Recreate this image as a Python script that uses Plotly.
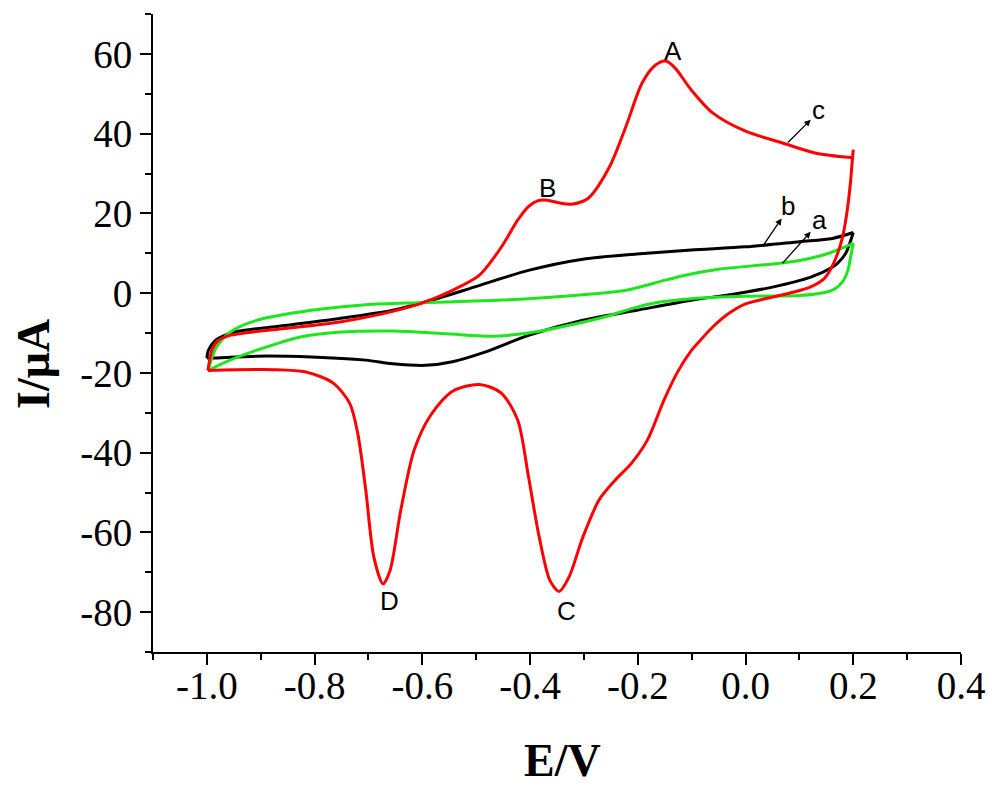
import plotly.graph_objects as go

# ---- data (E in V, I in uA) ----
red_cath_E = [0.200, 0.198, 0.195, 0.188, 0.180, 0.171, 0.160, 0.145, 0.120, 0.090, 0.040, 0.000, -0.030, -0.061, -0.085, -0.101, -0.125, -0.151, -0.182, -0.212, -0.242, -0.272, -0.302, -0.328, -0.346, -0.363, -0.383, -0.403, -0.423, -0.454, -0.494, -0.544, -0.584, -0.615, -0.640, -0.660, -0.673, -0.690, -0.705, -0.720, -0.735, -0.766, -0.816, -0.876, -0.998]
red_cath_I = [36.0, 33.0, 28.0, 20.0, 14.0, 10.0, 6.5, 3.5, 1.5, 0.3, -1.3, -2.7, -5.0, -8.5, -12.0, -14.5, -19.5, -26.7, -36.8, -42.7, -46.9, -51.9, -61.2, -71.3, -74.8, -72.1, -61.2, -46.0, -31.8, -25.0, -22.9, -24.6, -30.5, -39.3, -54.4, -69.6, -72.9, -66.2, -49.4, -35.1, -27.6, -22.5, -19.8, -19.2, -19.4]
red_anod_E = [-0.998, -0.990, -0.980, -0.957, -0.856, -0.756, -0.675, -0.605, -0.544, -0.494, -0.453, -0.423, -0.403, -0.385, -0.368, -0.345, -0.323, -0.292, -0.252, -0.222, -0.192, -0.167, -0.148, -0.131, -0.101, -0.061, 0.000, 0.070, 0.131, 0.196]
red_anod_I = [-19.4, -14.0, -12.0, -10.6, -8.9, -7.3, -5.2, -2.7, 0.7, 4.5, 11.6, 18.3, 21.7, 23.2, 23.3, 22.6, 22.3, 23.8, 31.8, 41.8, 52.7, 57.2, 58.2, 56.5, 51.0, 45.2, 40.6, 37.6, 35.1, 34.0]

black_cath_E = [0.200, 0.186, 0.171, 0.161, 0.121, 0.050, -0.020, -0.101, -0.202, -0.302, -0.403, -0.484, -0.544, -0.594, -0.655, -0.705, -0.806, -0.907, -0.990, -1.000]
black_cath_I = [15.2, 10.0, 7.5, 6.5, 4.0, 1.5, -0.2, -1.8, -4.3, -6.8, -10.6, -14.8, -17.2, -18.1, -17.7, -16.8, -16.0, -15.8, -16.3, -16.3]
black_anod_E = [-1.000, -0.997, -0.985, -0.965, -0.947, -0.856, -0.756, -0.655, -0.574, -0.504, -0.403, -0.302, -0.202, -0.101, 0.000, 0.100, 0.161, 0.200]
black_anod_I = [-16.3, -14.3, -12.0, -10.5, -9.7, -8.1, -6.4, -4.3, -1.4, 1.5, 5.7, 8.5, 9.8, 10.8, 11.6, 12.9, 13.7, 15.2]

green_cath_E = [0.200, 0.195, 0.190, 0.180, 0.165, 0.151, 0.100, 0.000, -0.101, -0.161, -0.202, -0.252, -0.302, -0.403, -0.473, -0.554, -0.655, -0.756, -0.826, -0.907, -0.957, -0.998]
green_cath_I = [12.5, 9.0, 5.7, 2.8, 1.0, 0.3, -0.6, -0.8, -1.4, -2.3, -3.5, -5.6, -7.3, -10.0, -10.8, -10.2, -9.5, -9.8, -11.0, -14.3, -16.8, -19.4]
green_anod_E = [-0.998, -0.990, -0.982, -0.957, -0.907, -0.806, -0.705, -0.605, -0.504, -0.403, -0.302, -0.222, -0.151, -0.101, -0.050, 0.050, 0.100, 0.150, 0.200]
green_anod_I = [-19.4, -16.0, -13.5, -9.8, -6.8, -4.3, -2.9, -2.4, -2.0, -1.4, -0.4, 0.7, 3.2, 4.8, 6.0, 7.3, 8.2, 9.8, 12.5]

peak_labels = ["A", "B", "C", "D"]
peak_E = [-0.134, -0.367, -0.333, -0.661]
peak_I = [60.6, 26.3, -79.6, -77.3]

curve_labels = ["c", "b", "a"]
curve_label_E = [0.136, 0.078, 0.138]
curve_label_I = [46.0, 21.8, 18.3]
arrow_tail_E = [0.076, 0.030, 0.066]
arrow_tail_I = [37.4, 11.4, 7.1]
arrow_head_E = [0.121, 0.067, 0.121]
arrow_head_I = [43.5, 18.7, 15.4]

xticks = [-1.0, -0.8, -0.6, -0.4, -0.2, 0.0, 0.2, 0.4]
yticks = [-80, -60, -40, -20, 0, 20, 40, 60]

RED = "#ff0000"
BLACK = "#000000"
GREEN = "#1ee61e"

fig = go.Figure()
for xs, ys, col in [
    (black_cath_E, black_cath_I, BLACK), (black_anod_E, black_anod_I, BLACK),
    (green_cath_E, green_cath_I, GREEN), (green_anod_E, green_anod_I, GREEN),
    (red_cath_E, red_cath_I, RED), (red_anod_E, red_anod_I, RED),
]:
    fig.add_trace(go.Scatter(x=xs, y=ys, mode="lines",
                             line=dict(color=col, width=3, shape="spline", smoothing=0.8),
                             showlegend=False, hoverinfo="skip"))

LFONT = dict(family="Liberation Sans, Arial", size=26, color="black")
annotations = []
for t, xx, yy in zip(peak_labels, peak_E, peak_I):
    annotations.append(dict(x=xx, y=yy, text=t, showarrow=False, font=LFONT))
for t, xx, yy in zip(curve_labels, curve_label_E, curve_label_I):
    annotations.append(dict(x=xx, y=yy, text=t, showarrow=False, font=LFONT))
for tx, ty, hx, hy in zip(arrow_tail_E, arrow_tail_I, arrow_head_E, arrow_head_I):
    annotations.append(dict(x=hx, y=hy, ax=tx, ay=ty, xref="x", yref="y",
                            axref="x", ayref="y", text="", showarrow=True,
                            arrowhead=2, arrowsize=1, arrowwidth=1.3, arrowcolor="black"))

# target plot area in page pixels (page body adds an 8 px offset)
OFF = 8
L, R, T, B = 153, 961, 14, 652
PW, PH = R - L, B - T
annotations.append(dict(xref="paper", yref="paper", x=(562 - L) / PW, y=(B - 760) / PH,
                        xanchor="center", yanchor="middle",
                        text="<b>E/V</b>", showarrow=False,
                        font=dict(family="Liberation Serif", size=46, color="black")))
annotations.append(dict(xref="paper", yref="paper", x=(33 - L) / PW, y=(B - 364) / PH,
                        xanchor="center", yanchor="middle",
                        text="<b>I/μA</b>", showarrow=False, textangle=-90,
                        font=dict(family="Liberation Serif", size=46, color="black")))

TFONT = dict(size=39, family="Liberation Serif", color="black")
fig.update_layout(
    width=1000, height=792,
    margin=dict(l=L - OFF, r=1000 - R + OFF, t=T - OFF, b=792 - B + OFF),
    paper_bgcolor="white", plot_bgcolor="white",
    font=dict(family="Liberation Serif", color="black"),
    annotations=annotations,
    xaxis=dict(range=[-1.1, 0.4], tickvals=xticks, ticktext=[f"{v:.1f}" for v in xticks],
               automargin=False, ticklabelstandoff=-13,
               showgrid=False, zeroline=False, showline=True, linecolor="black", linewidth=2,
               ticks="outside", ticklen=11, tickwidth=2, tickcolor="black",
               minor=dict(dtick=0.1, tick0=0, ticks="outside", ticklen=6, tickwidth=2, tickcolor="black"),
               tickfont=TFONT),
    yaxis=dict(range=[-90, 70], tickvals=yticks, ticktext=[str(v) for v in yticks],
               automargin=False,
               showgrid=False, zeroline=False, showline=True, linecolor="black", linewidth=2,
               ticks="outside", ticklen=11, tickwidth=2, tickcolor="black",
               minor=dict(dtick=10, tick0=0, ticks="outside", ticklen=6, tickwidth=2, tickcolor="black"),
               tickfont=TFONT),
)

fig.write_html("out.html")
